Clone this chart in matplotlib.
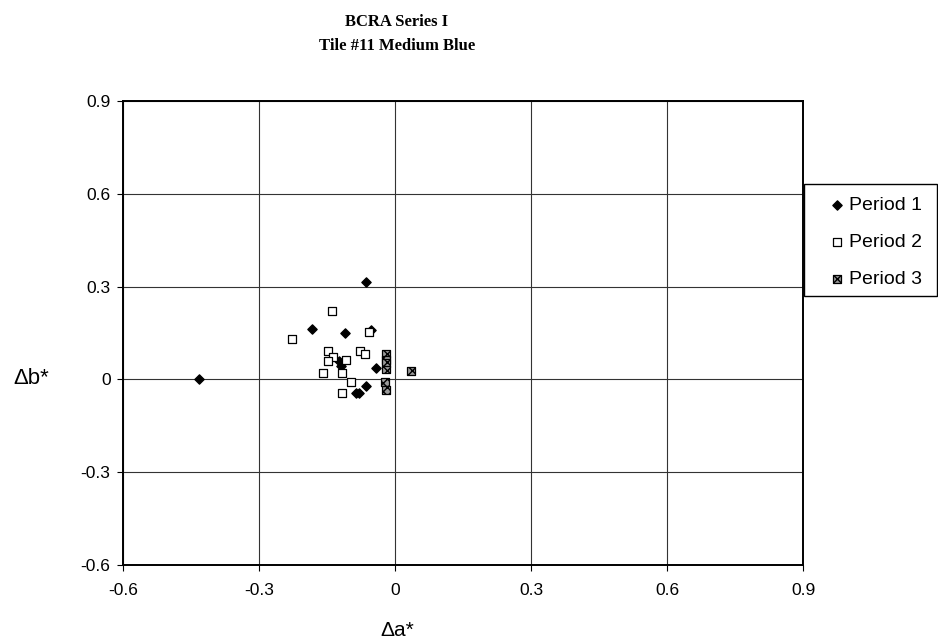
import matplotlib.pyplot as plt
from matplotlib.patches import Rectangle

plt.rcParams['font.family'] = ['Liberation Sans', 'DejaVu Sans']

# values
p1_a = [-0.433, -0.183, -0.111, -0.064, -0.052, -0.124, -0.119, -0.043, -0.065, -0.080, -0.085]
p1_b = [0.000, 0.163, 0.149, 0.315, 0.160, 0.059, 0.043, 0.038, -0.021, -0.043, -0.045]

p2_a = [-0.139, -0.228, -0.058, -0.148, -0.137, -0.147, -0.108, -0.078, -0.067, -0.158, -0.117, -0.097, -0.117]
p2_b = [0.221, 0.131, 0.152, 0.092, 0.073, 0.060, 0.063, 0.092, 0.081, 0.022, 0.022, -0.007, -0.045]

p3_a = [-0.020, -0.020, -0.020, -0.020, -0.022, -0.020, 0.036]
p3_b = [0.081, 0.063, 0.052, 0.032, -0.009, -0.034, 0.028]

ticks = [-0.6, -0.3, 0, 0.3, 0.6, 0.9]
tick_labels = ['-0.6', '-0.3', '0', '0.3', '0.6', '0.9']

fig = plt.figure(figsize=(9.38, 6.44), dpi=100)
ax = fig.add_axes([123/938, 1-565/644, 680/938, 464/644])

ax.scatter(p1_a, p1_b, marker='D', s=22, c='black', zorder=3, label='Period 1')
ax.scatter(p2_a, p2_b, marker='s', s=32, facecolor='white', edgecolor='black',
	linewidth=0.9, zorder=3, label='Period 2')
ax.scatter(p3_a, p3_b, marker='s', s=32, facecolor='#9a9a9a', edgecolor='black',
	hatch='xxxx', linewidth=0.9, zorder=4, label='Period 3')

ax.set_xlim(-0.6, 0.9)
ax.set_ylim(-0.6, 0.9)
ax.set_xticks(ticks)
ax.set_xticklabels(tick_labels)
ax.set_yticks(ticks)
ax.set_yticklabels(tick_labels)
ax.tick_params(direction='out', length=4, width=0.8, labelsize=12.5)
ax.tick_params(axis='x', pad=9)
ax.tick_params(axis='y', pad=5)
ax.grid(True, color='#333333', linewidth=0.8)
ax.set_axisbelow(True)
for sp in ax.spines.values():
	sp.set_linewidth(1.4)
	sp.set_color('black')

fig.text(397/938, 1-22/644, 'BCRA Series I', ha='center', va='center',
	family=['Liberation Serif'], weight='bold', fontsize=12)
fig.text(397/938, 1-46/644, 'Tile #11 Medium Blue', ha='center', va='center',
	family=['Liberation Serif'], weight='bold', fontsize=12)

fig.text(31/938, 1-379/644, '\u0394b*', ha='center', va='center', fontsize=16)
fig.text(397/938, 1-630/644, '\u0394a*', ha='center', va='center', fontsize=15)

# legend box as in the reference, entries placed inside it
fig.patches.append(Rectangle((804/938, 1-296/644), 133/938, 112/644,
	transform=fig.transFigure, facecolor='white', edgecolor='black',
	linewidth=1.0, zorder=1))
handles, labels = ax.get_legend_handles_labels()
leg = fig.legend(handles, labels, loc='center left',
	bbox_to_anchor=(827/938, 1-242/644), fontsize=14, frameon=False,
	borderpad=0, labelspacing=1.0, handletextpad=0.12, handlelength=1.0,
	borderaxespad=0)
leg.set_zorder(2)

fig.savefig('out.png', dpi=100)
